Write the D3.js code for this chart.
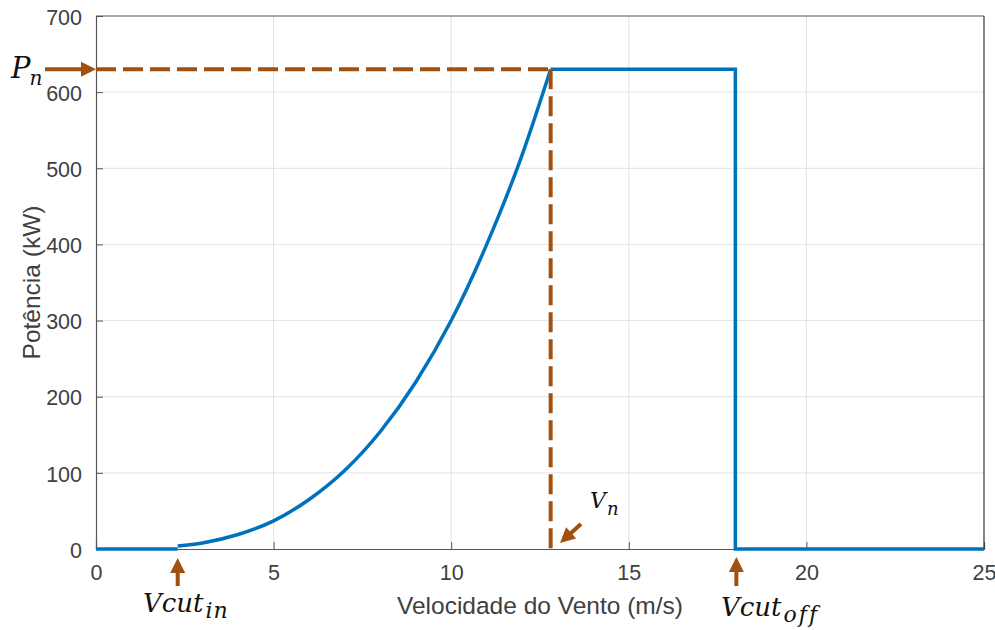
<!DOCTYPE html>
<html>
<head>
<meta charset="utf-8">
<script src="https://cdn.jsdelivr.net/npm/d3@7"></script>
<style>
  html, body { margin: 0; padding: 0; background: #fff; }
  svg { display: block; }
</style>
</head>
<body>
<svg id="chart" width="995" height="630"></svg>
<script>
// Wind turbine power curve (kW vs. m/s)
const xTicks = [0, 5, 10, 15, 20, 25];
const yTicks = [0, 100, 200, 300, 400, 500, 600, 700];

// Below cut-in: no output
const idleSpeed = [0, 2.3];
const idlePower = [0, 0];

// Cubic rise from cut-in to rated speed
const riseSpeed = [2.3, 3, 4, 5, 6, 7, 8, 9, 10, 11, 12, 12.8];
const risePower = [4, 8, 19, 37, 65, 103, 154, 219, 300, 400, 518, 630];

// Rated output, cut-off and stop
const ratedSpeed = [12.8, 18, 18, 25];
const ratedPower = [630, 630, 0, 0];

const vCutIn = 2.3;
const vRated = 12.8;
const vCutOff = 18;
const pRated = 630;

const margin = { left: 96, top: 16, right: 11, bottom: 81 };
const W = 995, H = 630;
const svg = d3.select("#chart");

const x = d3.scaleLinear().domain([0, 25]).range([margin.left, W - margin.right]);
const y = d3.scaleLinear().domain([0, 700]).range([H - margin.bottom, margin.top]);

const brown = "#A0500F";
const blue = "#0072BD";
const tickColor = "#404040";
const sans = "Arial, 'Liberation Sans', sans-serif";

// Grid
svg.append("g").selectAll("line").data(xTicks.slice(1, -1)).join("line")
  .attr("x1", d => x(d)).attr("x2", d => x(d))
  .attr("y1", y(0)).attr("y2", y(700))
  .attr("stroke", "#e3e3e3").attr("stroke-width", 1);
svg.append("g").selectAll("line").data(yTicks.slice(1, -1)).join("line")
  .attr("x1", x(0)).attr("x2", x(25))
  .attr("y1", d => y(d)).attr("y2", d => y(d))
  .attr("stroke", "#e3e3e3").attr("stroke-width", 1);

// Axes (ticks pointing inward)
const xAxis = svg.append("g").attr("transform", `translate(0,${y(0)})`)
  .call(d3.axisBottom(x).tickValues(xTicks).tickSize(-7).tickPadding(16).tickFormat(d3.format("d")));
const yAxis = svg.append("g").attr("transform", `translate(${x(0)},0)`)
  .call(d3.axisLeft(y).tickValues(yTicks).tickSize(-7).tickPadding(14).tickFormat(d3.format("d")));
[xAxis, yAxis].forEach(g => {
  g.attr("font-size", null).attr("font-family", null);
  g.select(".domain").attr("stroke", "#555").attr("stroke-width", 1.2);
  g.selectAll(".tick line").attr("stroke", "#555");
  g.selectAll(".tick text").attr("fill", tickColor)
    .style("font-family", sans).style("font-size", "21.5px");
});
xAxis.selectAll(".tick").filter(d => d === 0 || d === 25).select("line").remove();
yAxis.selectAll(".tick").filter(d => d === 0 || d === 700).select("line").remove();
yAxis.selectAll(".tick text").attr("dy", "0.38em");

// Box top and right
svg.append("line").attr("x1", x(0)).attr("x2", x(25)).attr("y1", y(700)).attr("y2", y(700))
  .attr("stroke", "#555").attr("stroke-width", 1.2);
svg.append("line").attr("x1", x(25)).attr("x2", x(25)).attr("y1", y(700)).attr("y2", y(0))
  .attr("stroke", "#333").attr("stroke-width", 1.2);

// Axis titles
svg.append("text").attr("x", x(12.5)).attr("y", 614)
  .attr("text-anchor", "middle").attr("fill", tickColor)
  .style("font-family", sans).style("font-size", "24.5px")
  .text("Velocidade do Vento (m/s)");
svg.append("text").attr("transform", `translate(40,${(y(0) + y(700)) / 2}) rotate(-90)`)
  .attr("text-anchor", "middle").attr("fill", tickColor)
  .style("font-family", sans).style("font-size", "24.5px")
  .text("Potência (kW)");

// Power curve
const line = d3.line().x(d => x(d[0])).y(d => y(d[1]));
const zip = (a, b) => a.map((v, i) => [v, b[i]]);
const curveGroup = svg.append("g").attr("fill", "none").attr("stroke", blue)
  .attr("stroke-width", 3.5).attr("stroke-linejoin", "miter");
curveGroup.append("path").attr("d", line(zip(idleSpeed, idlePower)));
curveGroup.append("path").attr("d", line.curve(d3.curveMonotoneX)(zip(riseSpeed, risePower)));
curveGroup.append("path").attr("d", line.curve(d3.curveLinear)(zip(ratedSpeed, ratedPower)));

// Rated power / rated speed guides
const guides = svg.append("g").attr("stroke", brown).attr("stroke-width", 4)
  .attr("stroke-dasharray", "20,7").attr("fill", "none");
guides.append("line").attr("x1", x(0)).attr("x2", x(vRated)).attr("y1", y(pRated)).attr("y2", y(pRated));
guides.append("line").attr("x1", x(vRated)).attr("x2", x(vRated)).attr("y1", y(pRated)).attr("y2", y(0));

// Arrows
function arrow(x1, y1, x2, y2) {
  const ang = Math.atan2(y2 - y1, x2 - x1);
  const headLen = 15, headHalf = 7.5;
  const bx = x2 - headLen * Math.cos(ang), by = y2 - headLen * Math.sin(ang);
  svg.append("line").attr("x1", x1).attr("y1", y1).attr("x2", bx + 2 * Math.cos(ang)).attr("y2", by + 2 * Math.sin(ang))
    .attr("stroke", brown).attr("stroke-width", 4);
  const px = -Math.sin(ang), py = Math.cos(ang);
  svg.append("path")
    .attr("d", `M${x2},${y2}L${bx + px * headHalf},${by + py * headHalf}L${bx - px * headHalf},${by - py * headHalf}Z`)
    .attr("fill", brown);
}
arrow(45, y(pRated), x(0), y(pRated));
arrow(x(vCutIn), 586, x(vCutIn), 558);
arrow(x(vCutOff) + 1, 586, x(vCutOff) + 1, 557);
arrow(581, 524, 560, 543);

// Math-style annotations
const mathFont = "'DejaVu Serif', 'Liberation Serif', serif";
function mathLabel(xp, yp, main, sub, size, subSize, subShift, subDx, subSpacing) {
  const t = svg.append("text").attr("x", xp).attr("y", yp).attr("fill", "#111")
    .style("font-family", mathFont).style("font-style", "italic").style("font-size", size + "px");
  t.append("tspan").text(main);
  t.append("tspan").attr("dx", subDx).attr("dy", subShift).style("font-size", subSize + "px")
    .style("letter-spacing", subSpacing + "px").text(sub);
}
mathLabel(11, 78, "P", "n", 29, 20, 7, -1, 0);
mathLabel(590, 508, "V", "n", 22, 18, 7, 1, 0);
mathLabel(143, 612, "Vcut", "in", 26, 22, 6, 2, 1);
mathLabel(721, 616, "Vcut", "off", 26, 22, 6, 2, 2);
</script>
</body>
</html>
